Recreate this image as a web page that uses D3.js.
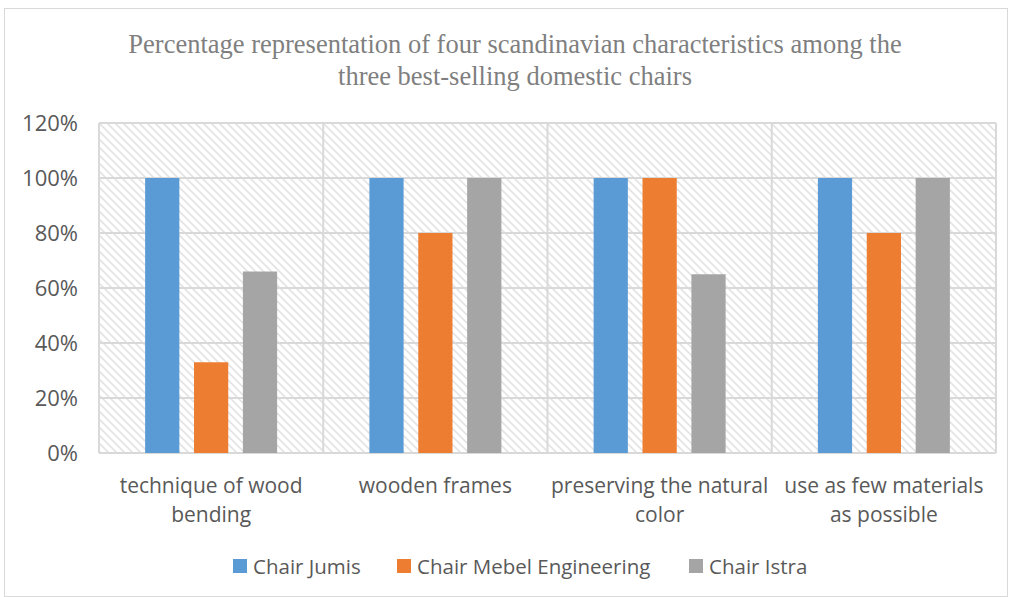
<!DOCTYPE html>
<html>
<head>
<meta charset="utf-8">
<script src="https://cdn.jsdelivr.net/npm/d3@7"></script>
<style>
  body { margin: 0; background: #fff; }
  svg { display: block; }
</style>
</head>
<body>
<svg id="chart" width="1012" height="597"></svg>
<script>
const categories = [
  ["technique of wood", "bending"],
  ["wooden frames"],
  ["preserving the natural", "color"],
  ["use as few materials", "as possible"]
];
const seriesNames = ["Chair Jumis", "Chair Mebel Engineering", "Chair Istra"];
const seriesColors = ["#5b9bd5", "#ed7d31", "#a5a5a5"];
const jumis = [100, 100, 100, 100];
const mebel = [33, 80, 100, 80];
const istra = [66, 100, 65, 100];
const yTicks = [0, 20, 40, 60, 80, 100, 120];
const titleLines = [
  "Percentage representation of four scandinavian characteristics among the",
  "three best-selling domestic chairs"
];

const series = [jumis, mebel, istra];
const svg = d3.select("#chart");
const W = 1012, H = 597;
const margin = { left: 99, right: 16, top: 123, bottom: 144 };
const chartWidth = W - margin.left - margin.right;
const chartHeight = H - margin.top - margin.bottom;
const font = "'Open Sans', 'Liberation Sans', sans-serif";

// outer border
svg.append("rect")
  .attr("x", 4.5).attr("y", 8.5)
  .attr("width", W - 9).attr("height", H - 9)
  .attr("fill", "#fff").attr("stroke", "#d9d9d9");

// hatch pattern for plot area
const defs = svg.append("defs");
const pat = defs.append("pattern")
  .attr("id", "hatch")
  .attr("patternUnits", "userSpaceOnUse")
  .attr("width", 8).attr("height", 8);
pat.append("path")
  .attr("d", "M-2,-2 L10,10 M-2,6 L2,10 M6,-2 L10,2")
  .attr("stroke", "#e3e3e3")
  .attr("stroke-width", 1.6);

// title
svg.append("g")
  .selectAll("text")
  .data(titleLines)
  .join("text")
  .attr("x", 515)
  .attr("y", (d, i) => 53 + i * 32)
  .attr("text-anchor", "middle")
  .attr("font-family", "'Liberation Serif', 'Times New Roman', serif")
  .attr("font-size", 26.5)
  .attr("fill", "#7f7f7f")
  .text((d) => d);

const x0 = d3.scaleBand()
  .domain(d3.range(categories.length))
  .range([0, chartWidth]);
const x1 = d3.scaleBand()
  .domain(d3.range(series.length))
  .range([0, 132])
  .paddingInner(0.3);
const y = d3.scaleLinear().domain([0, 120]).range([chartHeight, 0]);

const g = svg.append("g")
  .attr("transform", `translate(${margin.left},${margin.top})`);

g.append("rect")
  .attr("width", chartWidth).attr("height", chartHeight)
  .attr("fill", "url(#hatch)");

// horizontal gridlines
g.append("g")
  .selectAll("line")
  .data(yTicks)
  .join("line")
  .attr("x1", 0).attr("x2", chartWidth)
  .attr("y1", (d) => y(d)).attr("y2", (d) => y(d))
  .attr("stroke", "#d9d9d9").attr("stroke-width", 2);

// vertical category separators
g.append("g")
  .selectAll("line")
  .data(d3.range(categories.length + 1))
  .join("line")
  .attr("x1", (i) => i * x0.step()).attr("x2", (i) => i * x0.step())
  .attr("y1", 0).attr("y2", chartHeight)
  .attr("stroke", "#d9d9d9").attr("stroke-width", 2);

// y axis labels
g.append("g")
  .call(d3.axisLeft(y).tickValues(yTicks).tickSize(0).tickPadding(21).tickFormat((d) => d + "%"))
  .call((a) => a.select(".domain").remove())
  .call((a) => a.selectAll("text")
    .attr("font-family", font)
    .attr("font-size", 22)
    .attr("fill", "#595959"));

// bars
const groups = g.append("g")
  .selectAll("g")
  .data(categories.map((c, i) => series.map((s, k) => ({ k, v: s[i] }))))
  .join("g")
  .attr("transform", (d, i) => `translate(${x0(i) + x0.bandwidth() / 2 - 66},0)`);

groups.selectAll("rect")
  .data((d) => d)
  .join("rect")
  .attr("x", (d) => x1(d.k))
  .attr("width", x1.bandwidth())
  .attr("y", (d) => y(d.v))
  .attr("height", (d) => chartHeight - y(d.v))
  .attr("fill", (d) => seriesColors[d.k]);

// category labels
const catG = g.append("g");
categories.forEach((lines, i) => {
  catG.append("text")
    .attr("x", x0(i) + x0.bandwidth() / 2)
    .attr("y", chartHeight + 40)
    .attr("text-anchor", "middle")
    .attr("font-family", font)
    .attr("font-size", 21)
    .attr("fill", "#595959")
    .selectAll("tspan")
    .data(lines)
    .join("tspan")
    .attr("x", x0(i) + x0.bandwidth() / 2)
    .attr("dy", (d, j) => (j === 0 ? 0 : 29))
    .text((d) => d);
});

// legend
const legendX = [233, 397, 689];
const legend = svg.append("g")
  .selectAll("g")
  .data(seriesNames)
  .join("g")
  .attr("transform", (d, i) => `translate(${legendX[i]},559)`);
legend.append("rect")
  .attr("width", 14).attr("height", 14)
  .attr("fill", (d, i) => seriesColors[i]);
legend.append("text")
  .attr("x", 20).attr("y", 15)
  .attr("font-family", font)
  .attr("font-size", 20.5)
  .attr("fill", "#595959")
  .text((d) => d);
</script>
</body>
</html>
